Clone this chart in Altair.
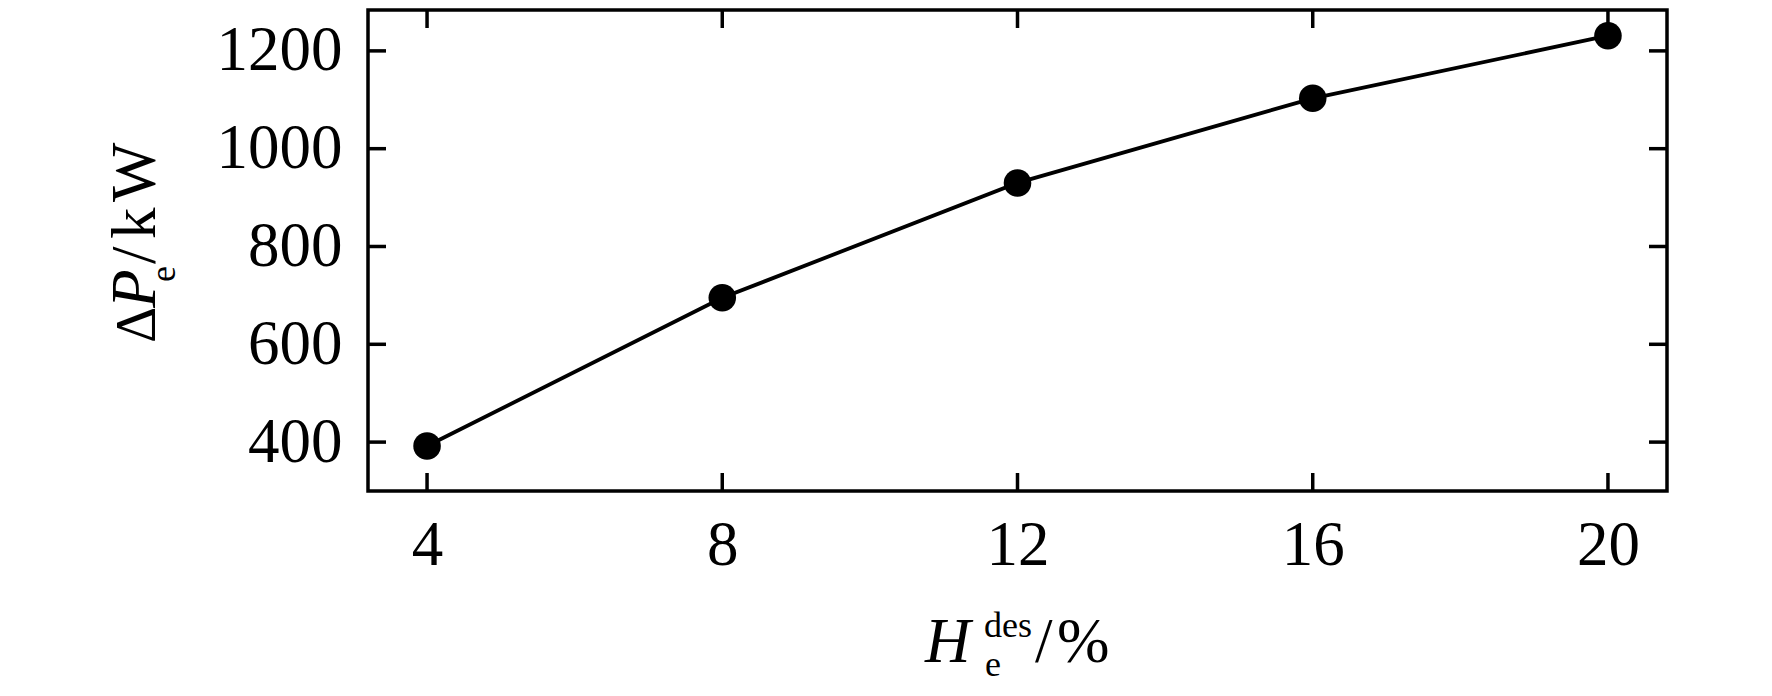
import altair as alt
import pandas as pd

# ---- data ----
x_vals = [4, 8, 12, 16, 20]
y_vals = [392, 695, 930, 1103, 1231]
x_ticks = [4, 8, 12, 16, 20]
y_ticks = [400, 600, 800, 1000, 1200]

W, H = 1299, 481
FONT = "Liberation Serif"
TICK = 18

df = pd.DataFrame({"x": x_vals, "y": y_vals})
xt = pd.DataFrame({"xt": x_ticks})
yt = pd.DataFrame({"yt": y_ticks})

xscale = alt.Scale(domain=[3.2, 20.8], nice=False, zero=False)
yscale = alt.Scale(domain=[300, 1283.6], nice=False, zero=False)

xaxis = alt.Axis(values=x_ticks, ticks=False, tickSize=0, domain=False, grid=False,
                 labelFont=FONT, labelFontSize=63, labelColor="black",
                 labelPadding=23, labelFlush=False, title=None, format="d")
yaxis = alt.Axis(values=y_ticks, ticks=False, tickSize=0, domain=False, grid=False,
                 labelFont=FONT, labelFontSize=63, labelColor="black",
                 labelPadding=26, labelFlush=False, title=None, format="d")

line = alt.Chart(df).mark_line(color="black", strokeWidth=3.8).encode(
    x=alt.X("x:Q", scale=xscale, axis=xaxis),
    y=alt.Y("y:Q", scale=yscale, axis=yaxis),
)
pts = alt.Chart(df).mark_circle(color="black", size=760, opacity=1).encode(
    x="x:Q", y="y:Q"
)

rule_style = dict(color="black", strokeWidth=3.5)
t_bottom = alt.Chart(xt).mark_rule(**rule_style).encode(
    x=alt.X("xt:Q", scale=xscale), y=alt.value(H), y2=alt.value(H - TICK))
t_top = alt.Chart(xt).mark_rule(**rule_style).encode(
    x=alt.X("xt:Q", scale=xscale), y=alt.value(0), y2=alt.value(TICK))
t_left = alt.Chart(yt).mark_rule(**rule_style).encode(
    y=alt.Y("yt:Q", scale=yscale), x=alt.value(0), x2=alt.value(TICK))
t_right = alt.Chart(yt).mark_rule(**rule_style).encode(
    y=alt.Y("yt:Q", scale=yscale), x=alt.value(W), x2=alt.value(W - TICK))


def txt(s, x, y, size=63, style="normal", angle=0):
    return alt.Chart(pd.DataFrame({"s": [s]})).mark_text(
        font=FONT, fontSize=size, fontStyle=style, color="black",
        align="left", baseline="alphabetic", angle=angle
    ).encode(text="s:N", x=alt.value(x), y=alt.value(y))


# x-axis title: H_e^des/%
xtitle = [
    txt("H", 557, 652, 63, "italic"),
    txt("des", 616, 627, 36),
    txt("e", 617, 666, 36),
    txt("/", 667, 652, 63),
    txt("%", 689, 652, 63),
]
# y-axis title: ΔP_e/kW (rotated)
ytitle = [
    txt("Δ", -213, 333, 56, "normal", 270),
    txt("P", -213, 298, 63, "italic", 270),
    txt("e", -193, 272, 36, "normal", 270),
    txt("/", -213, 254, 63, "normal", 270),
    txt("k", -213, 229, 63, "normal", 270),
    txt("W", -213, 192, 63, "normal", 270),
]

chart = alt.layer(line, pts, t_bottom, t_top, t_left, t_right, *xtitle, *ytitle).properties(
    width=W, height=H,
    autosize=alt.AutoSizeParams(type="none"),
    padding={"left": 360, "top": 2, "right": 90, "bottom": 195},
).configure_view(stroke="black", strokeWidth=3.5)

chart.save("out.html", embed_options={"renderer": "svg", "actions": False})
